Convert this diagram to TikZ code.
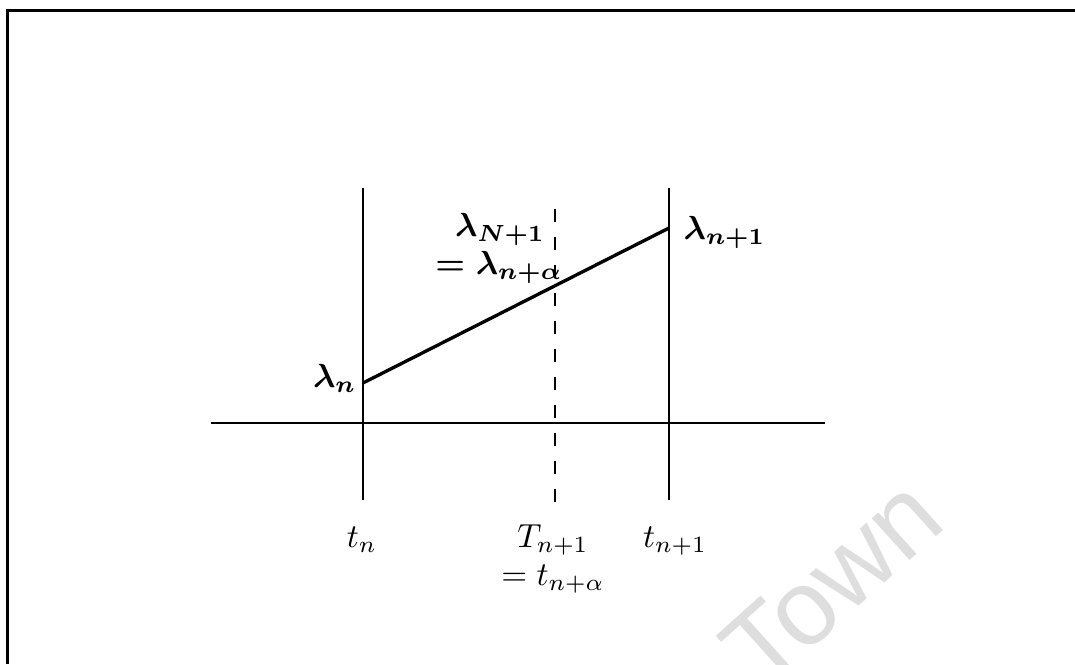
\documentclass[tikz,border=0pt]{standalone}
\usepackage{amsmath,bm}
\usepackage{fontspec}
\newfontfamily\wmfont{Liberation Sans}
\begin{document}
\begin{tikzpicture}[x=0.3pt,y=-0.3pt,
  axisline/.style={line width=0.7pt, black},
  dashline/.style={line width=0.7pt, black, dash pattern=on 3.9pt off 4.5pt},
  frameline/.style={line width=0.9pt, black},
  lbl/.style={inner sep=0pt, font=\fontsize{9.6}{11.5}\selectfont},
  blbl/.style={lbl, font=\fontsize{9.6}{11.5}\selectfont\boldmath}]
\useasboundingbox (0,0) rectangle (1075,664);
% watermark
\node[text=black!13, rotate=42, font=\wmfont\fontsize{32}{36}\selectfont, inner sep=0pt] (wm) at (832,582) {Town};
% frame
\coordinate (fl) at (7,10);
\coordinate (fr) at (1075,10);
\coordinate (fb) at (7,664);
\draw[frameline] (fb) -- (fl) -- (fr);
% axis
\coordinate (ax0) at (211,423);
\coordinate (ax1) at (825,423);
\draw[axisline] (ax0) -- (ax1);
% verticals
\coordinate (l0) at (363,188);
\coordinate (l1) at (363,500);
\coordinate (r0) at (669,188);
\coordinate (r1) at (669,500);
\coordinate (d0) at (555,209);
\coordinate (d1) at (555,507);
\draw[axisline] (l0) -- (l1);
\draw[axisline] (r0) -- (r1);
\draw[dashline] (d0) -- (d1);
% sloped line
\coordinate (pn) at (363,383);
\coordinate (pn1) at (669,228);
\draw[line width=1pt] (pn) -- (pn1);
% labels
\node[blbl, anchor=east] (lamn) at (357,378) {$\bm{\lambda}_n$};
\node[blbl, anchor=west] (lamn1) at (683,232) {$\bm{\lambda}_{n+1}$};
\node[blbl, anchor=base] (lamN1) at (500,236) {$\bm{\lambda}_{N+1}$};
\node[blbl, anchor=base] (lamna) at (499,274) {$=\bm{\lambda}_{n+\alpha}$};
\node[lbl, anchor=base] (tn) at (362,547) {$t_n$};
\node[lbl, anchor=base] (Tn1) at (553,547) {$T_{n+1}$};
\node[lbl, anchor=base] (tn1) at (675,547) {$t_{n+1}$};
\node[lbl, anchor=base] (tna) at (553,585) {$=t_{n+\alpha}$};
\end{tikzpicture}
\end{document}
